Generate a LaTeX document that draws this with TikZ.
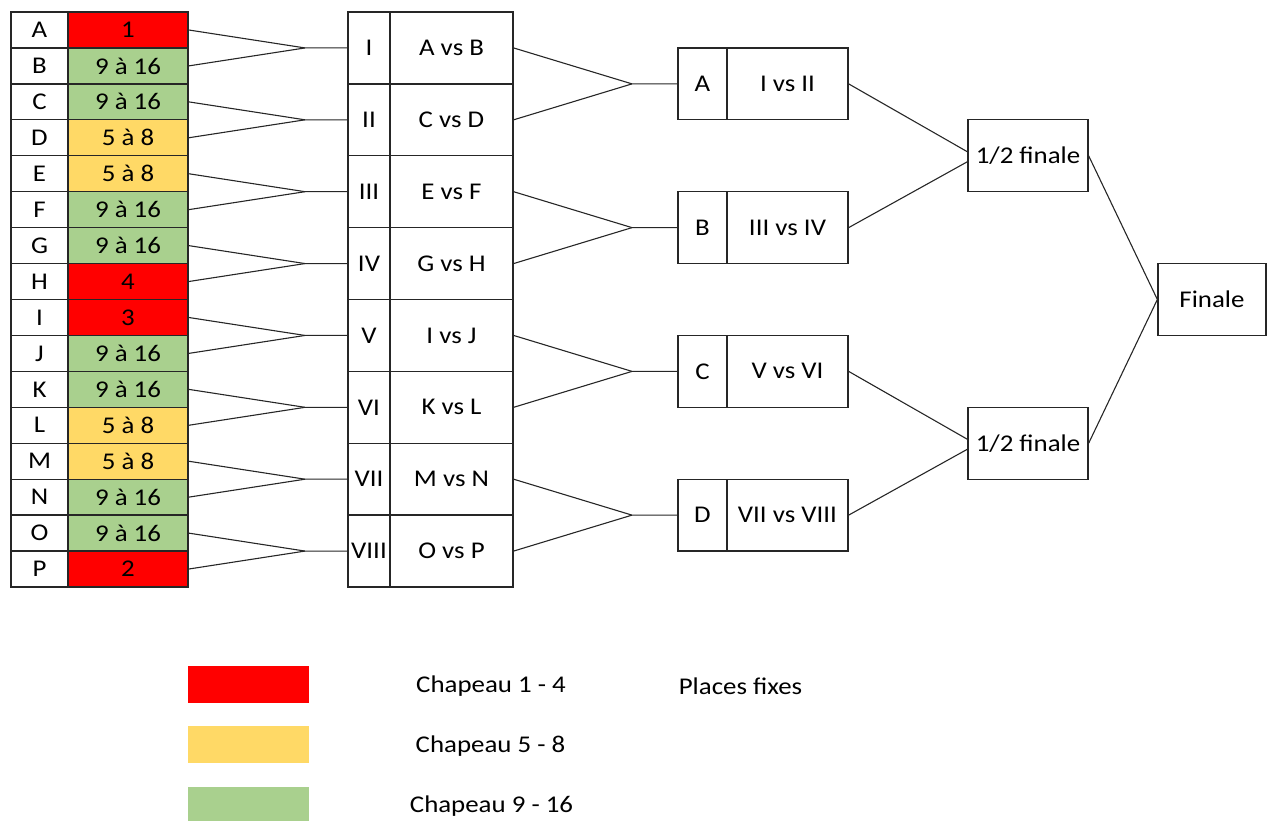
\documentclass[tikz,border=0pt]{standalone}
\usepackage{fontspec}
\setmainfont{Carlito}[FakeStretch=1.12]
\definecolor{seedR}{HTML}{FF0000}
\definecolor{seedY}{HTML}{FFD966}
\definecolor{seedG}{HTML}{A9D08E}
\definecolor{edge}{HTML}{262626}
\begin{document}
\begin{tikzpicture}[x=1pt,y=-1pt,
  lbl/.style={font=\fontsize{24}{28}\selectfont, text=black},
  cell/.style={lbl, draw=edge, line width=1.3pt, rectangle, inner sep=0pt},
  wire/.style={draw=edge, line width=1.1pt},
  swatch/.style={draw=none, inner sep=0pt, minimum width=121pt, minimum height=37pt}]
\useasboundingbox (0,0) rectangle (1267,820);

% ---- draw list: letter + seeding pot ----
\def\rh{35.9375}
\foreach \L/\t/\c [count=\i from 0] in {A/1/seedR, B/9 à 16/seedG, C/9 à 16/seedG, D/5 à 8/seedY,
    E/5 à 8/seedY, F/9 à 16/seedG, G/9 à 16/seedG, H/4/seedR, I/3/seedR, J/9 à 16/seedG,
    K/9 à 16/seedG, L/5 à 8/seedY, M/5 à 8/seedY, N/9 à 16/seedG, O/9 à 16/seedG, P/2/seedR}{
  \fill[\c] (68,{12+\rh*\i}) rectangle (188,{12+\rh*(\i+1)});
}
\foreach \L/\t [count=\i from 0] in {A/1, B/9 à 16, C/9 à 16, D/5 à 8, E/5 à 8, F/9 à 16,
    G/9 à 16, H/4, I/3, J/9 à 16, K/9 à 16, L/5 à 8, M/5 à 8, N/9 à 16, O/9 à 16, P/2}{
  \node[cell, minimum width=57pt, minimum height=\rh pt] (l\L) at (39.5,{12+\rh*(\i+0.5)}) {\L};
  \node[cell, minimum width=120pt, minimum height=\rh pt] (c\L) at (128,{12+\rh*(\i+0.5)}) {\t};
}

% ---- round of 16 ----
\def\mh{71.875}
\foreach \r/\m [count=\k from 1] in {I/A vs B, II/C vs D, III/E vs F, IV/G vs H,
    V/I vs J, VI/K vs L, VII/M vs N, VIII/O vs P}{
  \node[cell, minimum width=42pt, minimum height=\mh pt] (m\k) at (369,{12+\mh*(\k-0.5)}) {\r};
  \node[cell, minimum width=123pt, minimum height=\mh pt] (v\k) at (451.5,{12+\mh*(\k-0.5)}) {\m};
  \coordinate (p\k) at (305,{12+\mh*(\k-0.5)});
}
\foreach \a/\b/\k in {A/B/1, C/D/2, E/F/3, G/H/4, I/J/5, K/L/6, M/N/7, O/P/8}{
  \draw[wire] (c\a.east) -- (p\k) -- (m\k.west);
  \draw[wire] (c\b.east) -- (p\k);
}

% ---- quarter finals ----
\def\qh{143.75}
\foreach \q/\m [count=\j from 1] in {A/I vs II, B/III vs IV, C/V vs VI, D/VII vs VIII}{
  \node[cell, minimum width=49pt, minimum height=\mh pt] (qk\j) at (702.5,{12+\qh*(\j-0.5)}) {\q};
  \node[cell, minimum width=121pt, minimum height=\mh pt] (qv\j) at (787.5,{12+\qh*(\j-0.5)}) {\m};
  \coordinate (qp\j) at (632,{12+\qh*(\j-0.5)});
}
\foreach \u/\d/\j in {1/2/1, 3/4/2, 5/6/3, 7/8/4}{
  \draw[wire] (v\u.east) -- (qp\j) -- (qk\j.west);
  \draw[wire] (v\d.east) -- (qp\j);
}

% ---- semi finals and final ----
\node[cell, minimum width=120pt, minimum height=\mh pt] (s1) at (1028,155.75) {1/2 finale};
\node[cell, minimum width=120pt, minimum height=\mh pt] (s2) at (1028,443.25) {1/2 finale};
\node[cell, minimum width=108pt, minimum height=\mh pt] (fin) at (1212,299.5) {Finale};

\draw[wire] (qv1.east) -- ([yshift=4pt]s1.west);
\draw[wire] (qv2.east) -- ([yshift=-6pt]s1.west);
\draw[wire] (qv3.east) -- ([yshift=4pt]s2.west);
\draw[wire] (qv4.east) -- ([yshift=-6pt]s2.west);
\draw[wire] (s1.east) -- (fin.west);
\draw[wire] (s2.east) -- (fin.west);

% ---- legend ----
\node[swatch, fill=seedR] (kR) at (248.5,684.5) {};
\node[swatch, fill=seedY] (kY) at (248.5,744.5) {};
\node[swatch, fill=seedG] (kG) at (248.5,805) {};
\node[lbl] (tR) at (491,686) {Chapeau 1 - 4};
\node[lbl] (tY) at (490.5,746) {Chapeau 5 - 8};
\node[lbl] (tG) at (491.5,806) {Chapeau 9 - 16};
\node[lbl] (tF) at (740.5,686) {Places fixes};
\end{tikzpicture}
\end{document}
